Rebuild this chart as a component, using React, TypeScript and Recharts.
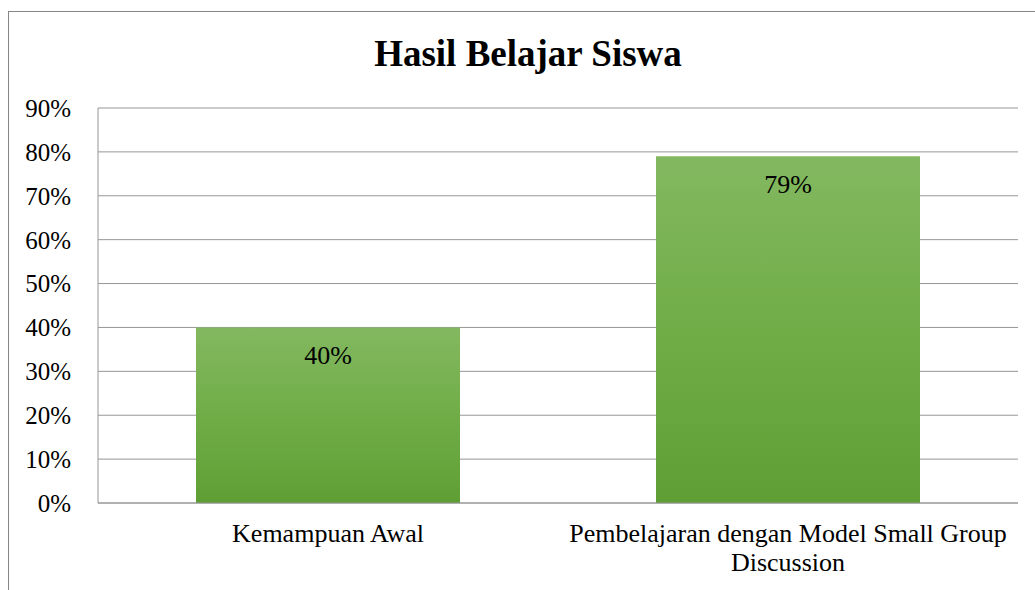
import { BarChart, Bar, XAxis, YAxis, CartesianGrid, LabelList } from "recharts";

const categories = ["Kemampuan Awal", "Pembelajaran dengan Model Small Group Discussion"];
const hasil = [40, 79];
const yTicks = [0, 10, 20, 30, 40, 50, 60, 70, 80, 90];

const chartData = categories.map((name, i) => ({ name, hasil: hasil[i] }));

const font = "Liberation Serif";
const gridColor = "#969696";

// simple greedy word wrap using canvas text measurement
function wrapWords(text: string, maxWidth: number, fontSize: number) {
  const ctx = document.createElement("canvas").getContext("2d");
  if (!ctx) return [text];
  ctx.font = `${fontSize}px "${font}"`;
  const lines: string[] = [];
  let line = "";
  for (const word of text.split(" ")) {
    const test = line ? `${line} ${word}` : word;
    if (line && ctx.measureText(test).width > maxWidth) {
      lines.push(line);
      line = word;
    } else {
      line = test;
    }
  }
  if (line) lines.push(line);
  return lines;
}

function CategoryTick(props: any) {
  const { x, y, payload } = props;
  const lines = wrapWords(String(payload.value), 450, 26);
  return (
    <text x={x} y={y} textAnchor="middle" fontSize={26} fontFamily={font} fill="#000">
      {lines.map((l, i) => (
        <tspan key={i} x={x} dy={i === 0 ? 18.5 : 29}>
          {l}
        </tspan>
      ))}
    </text>
  );
}

export default function App() {
  return (
    <div style={{ position: "absolute", left: 0, top: 0, width: 1035, height: 590, overflow: "hidden", background: "#fff", fontFamily: font }}>
      <div
        style={{
          position: "absolute",
          left: 8,
          top: 11,
          width: 1100,
          height: 700,
          border: "1px solid #868686",
          boxSizing: "border-box",
        }}
      />
      <div
        style={{
          position: "absolute",
          left: 8,
          top: 33,
          width: 1040,
          textAlign: "center",
          fontFamily: font,
          fontWeight: "bold",
          fontSize: 37,
          lineHeight: "41px",
          color: "#000",
        }}
      >
        Hasil Belajar Siswa
      </div>
      <div style={{ position: "absolute", left: 0, top: 0 }}>
        <BarChart
          width={1035}
          height={590}
          data={chartData}
          margin={{ top: 108, right: 17, bottom: 0, left: 0 }}
          style={{ fontFamily: font }}
        >
          <defs>
            <linearGradient id="greenFill" x1="0" y1="0" x2="0" y2="1">
              <stop offset="0%" stopColor="#83b860" />
              <stop offset="50%" stopColor="#70ad47" />
              <stop offset="100%" stopColor="#5f9e35" />
            </linearGradient>
          </defs>
          <CartesianGrid vertical={false} stroke={gridColor} />
          <XAxis
            dataKey="name"
            height={87}
            stroke={gridColor}
            tickLine={false}
            tickSize={0}
            tickMargin={20}
            interval={0}
            tick={<CategoryTick />}
          />
          <YAxis
            width={98}
            domain={[0, 90]}
            ticks={yTicks}
            stroke={gridColor}
            tickLine={false}
            tickSize={0}
            tickMargin={27}
            tickFormatter={(v) => `${v}%`}
            tick={{ fill: "#000", fontSize: 25, fontFamily: font }}
          />
          <Bar dataKey="hasil" fill="url(#greenFill)" barSize={264} isAnimationActive={false}>
            <LabelList
              dataKey="hasil"
              position="insideTop"
              offset={18}
              formatter={(v: any) => `${v}%`}
              fill="#000"
              fontSize={26}
              fontFamily={font}
            />
          </Bar>
        </BarChart>
      </div>
    </div>
  );
}
